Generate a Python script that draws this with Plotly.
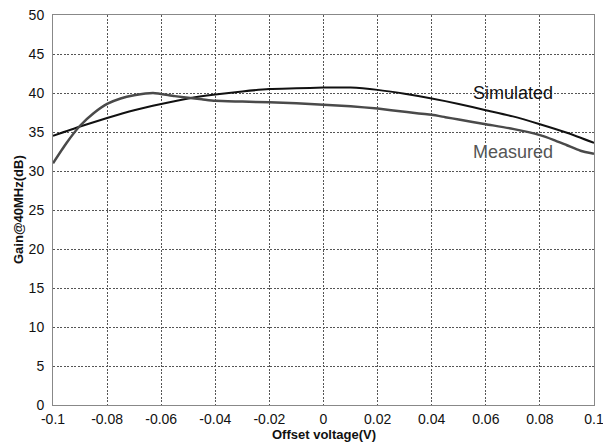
import plotly.graph_objects as go

sim_x = [-0.1, -0.09, -0.08, -0.07, -0.06, -0.05, -0.04, -0.03, -0.02, -0.01, 0.0, 0.01, 0.02, 0.03, 0.04, 0.05, 0.06, 0.07, 0.08, 0.09, 0.1]
sim_y = [34.5, 35.7, 36.8, 37.8, 38.6, 39.3, 39.8, 40.2, 40.5, 40.6, 40.7, 40.7, 40.4, 39.9, 39.3, 38.6, 37.8, 37.0, 36.0, 34.9, 33.6]

meas_x = [-0.1, -0.095, -0.09, -0.085, -0.08, -0.075, -0.07, -0.063, -0.055, -0.045, -0.04, -0.03, -0.02, -0.01, 0.0, 0.01, 0.02, 0.03, 0.04, 0.045, 0.05, 0.06, 0.07, 0.08, 0.085, 0.09, 0.095, 0.1]
meas_y = [31.0, 33.6, 35.8, 37.4, 38.6, 39.3, 39.7, 40.0, 39.6, 39.2, 39.0, 38.9, 38.8, 38.7, 38.5, 38.3, 38.0, 37.6, 37.2, 36.9, 36.6, 36.0, 35.4, 34.6, 34.0, 33.3, 32.6, 32.2]

x_ticks = [-0.1, -0.08, -0.06, -0.04, -0.02, 0, 0.02, 0.04, 0.06, 0.08, 0.1]
x_labels = ["-0.1", "-0.08", "-0.06", "-0.04", "-0.02", "0", "0.02", "0.04", "0.06", "0.08", "0.1"]
y_ticks = [0, 5, 10, 15, 20, 25, 30, 35, 40, 45, 50]

FONT = "Liberation Sans, Arial"

fig = go.Figure()
fig.add_trace(go.Scatter(x=sim_x, y=sim_y, mode="lines", name="Simulated",
                         line=dict(color="#111111", width=2, shape="spline", smoothing=0.6)))
fig.add_trace(go.Scatter(x=meas_x, y=meas_y, mode="lines", name="Measured",
                         line=dict(color="#4a4a4a", width=2.5, shape="spline", smoothing=0.6)))

fig.add_annotation(x=0.07, y=40.0, text="Simulated", showarrow=False,
                   font=dict(family=FONT, size=18, color="#111111"))
fig.add_annotation(x=0.07, y=32.4, text="Measured", showarrow=False,
                   font=dict(family=FONT, size=18, color="#555555"))

# axis titles, placed in pixels relative to the plot area
fig.add_annotation(x=0.5, y=0, xref="paper", yref="paper", yshift=-29, yanchor="middle",
                   text="<b>Offset voltage(V)</b>", showarrow=False,
                   font=dict(family=FONT, size=13, color="#111111"))
fig.add_annotation(x=0, y=0.5, xref="paper", yref="paper", xshift=-35, xanchor="center",
                   textangle=-90, text="<b>Gain@40MHz(dB)</b>", showarrow=False,
                   font=dict(family=FONT, size=13, color="#111111"))

fig.update_layout(
    width=603, height=444,
    margin=dict(l=53, r=9, t=15, b=39, autoexpand=False),
    paper_bgcolor="white", plot_bgcolor="white",
    showlegend=False,
    font=dict(family=FONT, size=14, color="#111111"),
)
fig.update_xaxes(
    range=[-0.1, 0.1], tickvals=x_ticks, ticktext=x_labels,
    showgrid=True, gridcolor="#555555", griddash="2px,1.5px", gridwidth=1,
    showline=True, linecolor="#888888", linewidth=1, mirror=True,
    zeroline=False, ticks="", ticklabelstandoff=1, automargin=False,
    ticklabeloverflow="allow",
)
fig.update_yaxes(
    range=[0, 50], tickvals=y_ticks,
    showgrid=True, gridcolor="#555555", griddash="2px,1.5px", gridwidth=1,
    showline=True, linecolor="#888888", linewidth=1, mirror=True,
    zeroline=False, ticks="", ticklabelstandoff=5, automargin=False,
    ticklabeloverflow="allow",
)

fig.write_html("out.html",
               config={"displayModeBar": False},
               post_script="document.body.style.margin='0';document.body.style.overflow='hidden';")
